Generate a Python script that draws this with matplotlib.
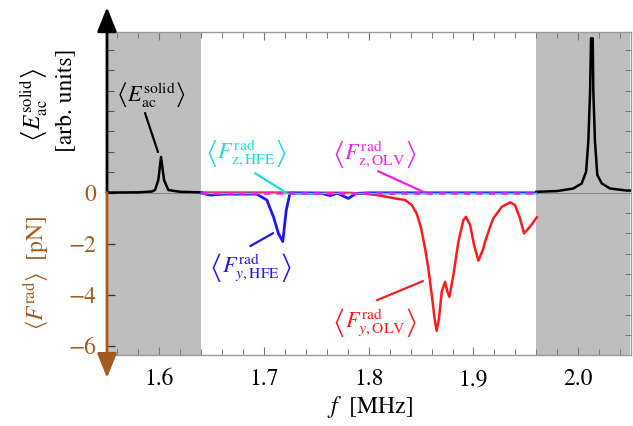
import matplotlib
matplotlib.use("Agg")
import matplotlib.pyplot as plt
import numpy as np

plt.rcParams['font.family'] = ['STIXGeneral', 'DejaVu Serif']
plt.rcParams['mathtext.fontset'] = 'stix'

# ---------------- data ----------------
# black: <E_ac^solid> (arb. units, drawn on the same scale as pN axis)
f_E1 = [1.550, 1.580, 1.5925, 1.5959, 1.599, 1.6016, 1.6045, 1.6086, 1.620, 1.640]
E1 = [0.00, 0.01, 0.04, 0.10, 0.49, 1.40, 0.49, 0.10, 0.03, 0.01]
f_E2 = [1.960, 1.980, 1.9954, 2.0034, 2.0076, 2.0097, 2.0114, 2.0123, 2.0139, 2.0145,
        2.0161, 2.0183, 2.0225, 2.0305, 2.0464, 2.050]
E2 = [0.03, 0.06, 0.16, 0.36, 0.82, 1.99, 3.95, 6.05, 6.05, 3.95,
      1.99, 0.69, 0.36, 0.16, 0.08, 0.08]

# red: <F_y,OLV^rad>
f_yOLV = [1.640, 1.700, 1.780, 1.790, 1.800, 1.810, 1.8251, 1.8347, 1.8411, 1.8458,
          1.8500, 1.8538, 1.8569, 1.8602, 1.8633, 1.8649, 1.8671, 1.8697, 1.8729,
          1.8751, 1.8770, 1.8808, 1.8856, 1.8904, 1.8929, 1.8968, 1.9006, 1.9047,
          1.9095, 1.9111, 1.9159, 1.9190, 1.9270, 1.9350, 1.9397, 1.9445, 1.9483,
          1.9540, 1.9605]
F_yOLV = [0.00, 0.00, -0.01, -0.03, -0.06, -0.11, -0.23, -0.29, -0.49, -0.82,
          -1.40, -2.19, -2.97, -4.02, -5.07, -5.42, -4.93, -3.89, -3.50,
          -3.89, -4.09, -3.24, -1.93, -1.08, -0.95, -1.27, -2.06, -2.67,
          -2.19, -1.93, -1.34, -1.01, -0.56, -0.38, -0.49, -1.01, -1.60,
          -1.34, -0.97]

# blue: <F_y,HFE^rad>
f_yHFE = [1.640, 1.6486, 1.6611, 1.693, 1.7026, 1.709, 1.7137, 1.7179, 1.7212, 1.7248,
          1.755, 1.763, 1.770, 1.7805, 1.788, 1.800, 1.960]
F_yHFE = [-0.02, -0.10, -0.06, -0.06, -0.29, -0.95, -1.60, -1.92, -0.69, -0.02,
          -0.03, -0.12, -0.03, -0.23, -0.03, -0.01, -0.01]

# cyan / magenta: z components (about zero)
f_z = [1.640, 1.960]
F_zHFE = [0.0, 0.0]
F_zOLV = [0.0, 0.0]

xticks = [1.6, 1.7, 1.8, 1.9, 2.0]
xticklabels = ['1.6', '1.7', '1.8', '1.9', '2.0']
yticks = [-6, -4, -2, 0]
yticklabels = ['\u22126', '\u22124', '\u22122', '0']

# ---------------- style ----------------
brown = '#A65A1E'
gray_shade = '#BEBEBE'
c_red = '#FF1A1A'
c_blue = '#1A1AF0'
c_cyan = '#22DADA'
c_mag = '#EE22EE'

W, H = 633, 426
fig = plt.figure(figsize=(W / 100, H / 100), dpi=100)
ax = fig.add_axes([107 / W, 1 - 355 / H, (630.5 - 107) / W, (355 - 31.7) / H])

xmin, xmax = 1.55, 2.05
ymin, ymax = -6.37, 6.31
ax.set_xlim(xmin, xmax)
ax.set_ylim(ymin, ymax)

ax.axvspan(xmin, 1.64, color=gray_shade, lw=0, zorder=0)
ax.axvspan(1.96, xmax, color=gray_shade, lw=0, zorder=0)
ax.axhline(0, color='#888888', lw=0.8, zorder=1)

ax.plot(f_E1, E1, color='black', lw=1.8, zorder=3)
ax.plot(f_E2, E2, color='black', lw=1.8, zorder=3)
ax.plot(f_yOLV, F_yOLV, color=c_red, lw=1.8, zorder=3)
ax.plot(f_yHFE, F_yHFE, color=c_blue, lw=2.0, zorder=4)
ax.plot(f_z, F_zHFE, color=c_cyan, lw=1.0, zorder=5)
ax.plot(f_z, F_zOLV, color=c_mag, lw=1.8, ls=(0, (2.5, 2.5)), zorder=6)

# spines
for s in ['top', 'right', 'bottom']:
    ax.spines[s].set_color('#9A9A9A')
    ax.spines[s].set_linewidth(1.0)
ax.spines['left'].set_visible(False)

# x ticks
ax.set_xticks(xticks)
ax.set_xticklabels(xticklabels)
ax.set_xticks(np.arange(1.56, 2.05, 0.02), minor=True)
ax.tick_params(axis='x', which='major', direction='in', length=6, width=0.8,
               color='#777777', labelsize=17, pad=10, top=True)
ax.tick_params(axis='x', which='minor', direction='in', length=4, width=0.7,
               color='#777777', top=True)

# y ticks (left): labelled force ticks, unlabelled positive minor ticks
ax.set_yticks(yticks)
ax.set_yticklabels(yticklabels)
ax.set_yticks(np.arange(0.8, 6.0, 0.8), minor=True)
ax.tick_params(axis='y', which='major', direction='in', length=6, width=0.9,
               color='#333333', labelsize=17, labelcolor=brown, pad=8)
ax.tick_params(axis='y', which='minor', direction='in', length=5, width=0.8,
               color='#555555')

# right-side ticks
sec = ax.secondary_yaxis('right')
sec.set_yticks(list(np.arange(-5.6, 6.0, 0.8)))
sec.tick_params(direction='in', length=4, width=0.7, color='#777777', labelright=False)
sec.spines['right'].set_visible(False)

# left axis arrows
ytop_ext, ybot_ext = 7.27, -7.27
ax.annotate('', xy=(0, ytop_ext), xytext=(0, 0),
            xycoords=('axes fraction', 'data'), textcoords=('axes fraction', 'data'),
            arrowprops=dict(arrowstyle='-|>,head_length=0.75,head_width=0.3',
                            color='black', lw=2, shrinkA=0, shrinkB=0, mutation_scale=20),
            annotation_clip=False, zorder=10)
ax.annotate('', xy=(0, ybot_ext), xytext=(0, 0),
            xycoords=('axes fraction', 'data'), textcoords=('axes fraction', 'data'),
            arrowprops=dict(arrowstyle='-|>,head_length=0.75,head_width=0.3',
                            color=brown, lw=2, shrinkA=0, shrinkB=0, mutation_scale=20),
            annotation_clip=False, zorder=10)

# axis labels
fig.text(34 / W, 1 - 105 / H, r'$\left\langle E_{\mathrm{ac}}^{\mathrm{solid}}\right\rangle$',
         rotation=90, ha='center', va='center', fontsize=17, color='black')
fig.text(66 / W, 1 - 100 / H, '[arb. units]', rotation=90, ha='center', va='center',
         fontsize=17, color='black')
fig.text(36 / W, 1 - 273 / H, r'$\left\langle F^{\mathrm{rad}}\right\rangle$  [pN]',
         rotation=90, ha='center', va='center', fontsize=17, color=brown)
fig.text(370 / W, 1 - 407 / H, r'$f$  [MHz]', ha='center', va='center', fontsize=17)

# annotations
def line(p0, p1, color):
    ax.annotate('', xy=p1, xytext=p0,
                arrowprops=dict(arrowstyle='-', color=color, lw=1.6, shrinkA=0, shrinkB=0),
                annotation_clip=False, zorder=7)

ax.text(1.5922, 3.82, r'$\left\langle E_{\mathrm{ac}}^{\mathrm{solid}}\right\rangle$',
        ha='center', va='center', fontsize=16, color='black', zorder=8)
line((1.5863, 3.12), (1.5987, 1.59), 'black')

ax.text(1.683, 1.55, r'$\left\langle F_{\mathrm{z,HFE}}^{\mathrm{rad}}\right\rangle$',
        ha='center', va='center', fontsize=16, color=c_cyan, zorder=8)
line((1.6914, 0.76), (1.7209, 0.0), c_cyan)

ax.text(1.805, 1.51, r'$\left\langle F_{\mathrm{z,OLV}}^{\mathrm{rad}}\right\rangle$',
        ha='center', va='center', fontsize=16, color=c_mag, zorder=8)
line((1.8088, 0.84), (1.8537, 0.0), c_mag)

ax.text(1.6868, -2.92, r'$\left\langle F_{y,\mathrm{HFE}}^{\mathrm{rad}}\right\rangle$',
        ha='center', va='center', fontsize=16, color=c_blue, zorder=8)
line((1.6868, -2.10), (1.7087, -1.59), c_blue)

ax.text(1.806, -5.08, r'$\left\langle F_{y,\mathrm{OLV}}^{\mathrm{rad}}\right\rangle$',
        ha='center', va='center', fontsize=16, color=c_red, zorder=8)
line((1.8079, -4.22), (1.8518, -3.47), c_red)

fig.savefig('out.png', dpi=100)
